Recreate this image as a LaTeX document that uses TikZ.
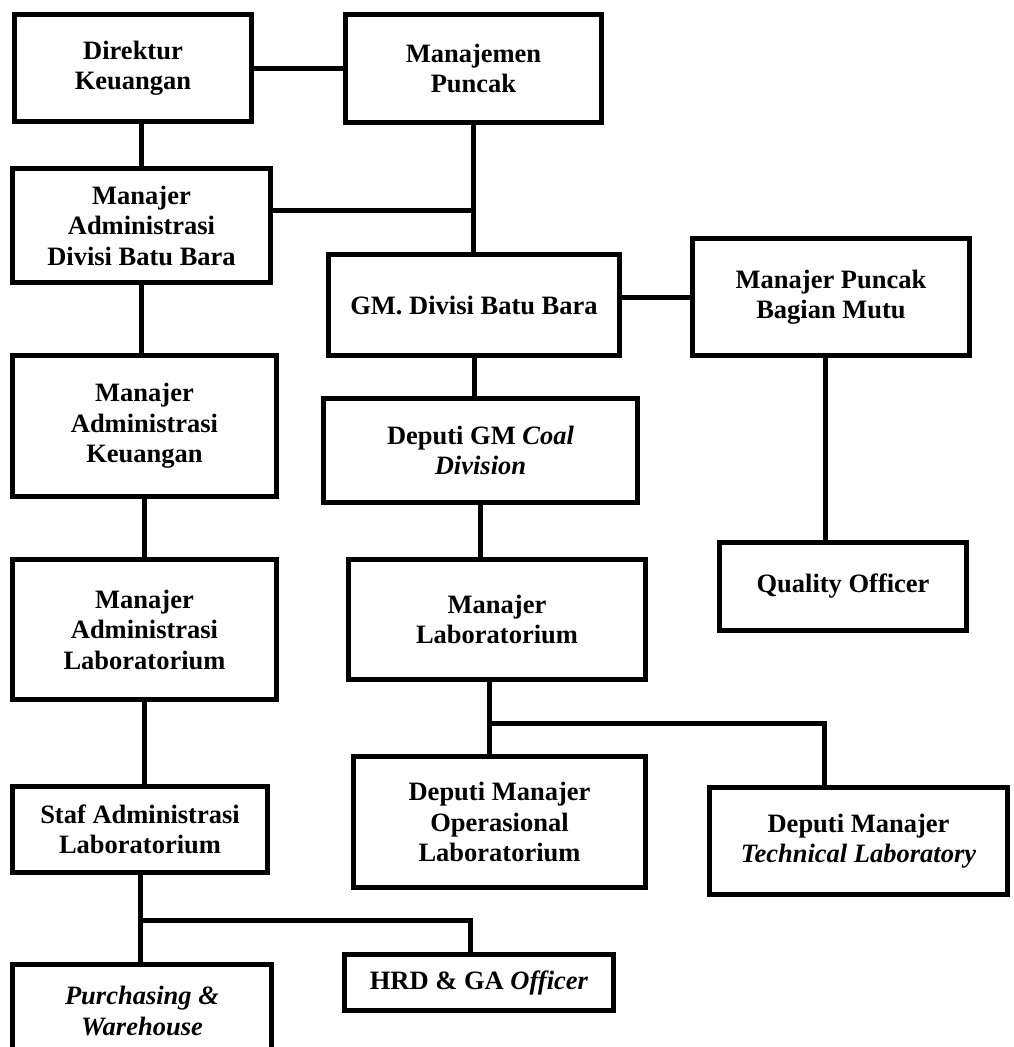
\documentclass[tikz,border=0pt]{standalone}
\usepackage{fontspec}
\setmainfont{Liberation Serif}
\usetikzlibrary{calc}

\begin{document}
\begin{tikzpicture}[x=1pt,y=-1pt,
  jabatan/.style={draw,line width=5pt,inner sep=0pt,align=center,
    font=\fontsize{26.5}{30.5}\selectfont\bfseries},
  garis/.style={line width=5pt}]
\useasboundingbox (0,0) rectangle (1013,1047);
\clip (0,0) rectangle (1013,1047);

\node[jabatan,minimum width=237pt,minimum height=107pt] (dirkeu) at (133,68) {Direktur\\Keuangan};
\node[jabatan,minimum width=256pt,minimum height=108pt] (manpuncak) at (473.5,68.5) {Manajemen\\Puncak};
\node[jabatan,minimum width=258pt,minimum height=114pt] (madiv) at (141.5,225.5) {Manajer\\Administrasi\\Divisi Batu Bara};
\node[jabatan,minimum width=264pt,minimum height=141pt] (makeu) at (144.5,426) {Manajer\\Administrasi\\Keuangan};
\node[jabatan,minimum width=264pt,minimum height=140pt] (malab) at (144.5,629.5) {Manajer\\Administrasi\\Laboratorium};
\node[jabatan,minimum width=255pt,minimum height=86pt] (staf) at (140,829.5) {Staf Administrasi\\Laboratorium};
\node[jabatan,minimum width=259pt,minimum height=93pt] (purch) at (142,1011) {\textit{Purchasing \&}\\\textit{Warehouse}};
\node[jabatan,minimum width=269pt,minimum height=56pt] (hrd) at (479,982.5) {HRD \& GA \textit{Officer}};

\node[jabatan,minimum width=291pt,minimum height=101pt] (gm) at (474,305) {GM. Divisi Batu Bara};
\node[jabatan,minimum width=277pt,minimum height=117pt] (mpbm) at (831,297) {Manajer Puncak\\Bagian Mutu};
\node[jabatan,minimum width=314pt,minimum height=104pt] (depgm) at (480.5,450.5) {Deputi GM \textit{Coal}\\\textit{Division}};
\node[jabatan,minimum width=247pt,minimum height=88pt] (qo) at (843,586.5) {Quality Officer};
\node[jabatan,minimum width=297pt,minimum height=120pt] (mlab) at (497,619.5) {Manajer\\Laboratorium};
\node[jabatan,minimum width=292pt,minimum height=131pt] (depop) at (499.5,822) {Deputi Manajer\\Operasional\\Laboratorium};
\node[jabatan,minimum width=298pt,minimum height=107pt] (deptech) at (858.5,841) {Deputi Manajer\\\textit{Technical Laboratory}};

\coordinate (y210) at (0,210);
\coordinate (cab1) at (489,723);
\coordinate (cab2) at (824,723);
\coordinate (cab3) at (140,920);
\coordinate (cab4) at (470,920);
\coordinate (xmutu) at (825,0);

\draw[garis] (dirkeu.east) -- (dirkeu.east -| manpuncak.west);
\draw[garis] (madiv.north) -- (madiv.north |- dirkeu.south);
\draw[garis] (manpuncak.south) -- (manpuncak.south |- gm.north);
\draw[garis] (madiv.east |- y210) -- (manpuncak.south |- y210);
\draw[garis] (madiv.south) -- (madiv.south |- makeu.north);
\draw[garis] (makeu.south) -- (makeu.south |- malab.north);
\draw[garis] (malab.south) -- (malab.south |- staf.north);

\draw[garis] (mpbm.west) -- (mpbm.west -| gm.east);
\draw[garis] (xmutu |- mpbm.south) -- (xmutu |- qo.north);
\draw[garis] (gm.south) -- (gm.south |- depgm.north);
\draw[garis] (depgm.south) -- (depgm.south |- mlab.north);

\draw[garis] (cab1 |- mlab.south) -- (cab1 |- depop.north);
\draw[garis] (cab1) -- (cab2) -- (cab2 |- deptech.north);

\draw[garis] (cab3 |- staf.south) -- (cab3 |- purch.north);
\draw[garis] (cab3) -- (cab4) -- (cab4 |- hrd.north);

\end{tikzpicture}
\end{document}
